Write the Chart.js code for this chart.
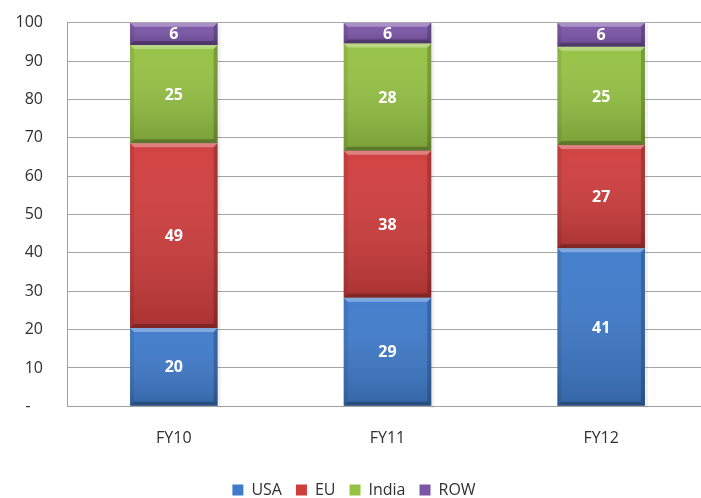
<!DOCTYPE html>
<html>
<head>
<meta charset="utf-8">
<title>Revenue share by region</title>
<script src="https://cdn.jsdelivr.net/npm/chart.js@4"></script>
<style>
  html, body { margin: 0; padding: 0; background: #fff; overflow: hidden; }
  #wrap { width: 712px; height: 508px; }
</style>
</head>
<body>
<div id="wrap"><canvas id="shareChart" width="712" height="508"></canvas></div>
<script>
// ─── Data (segment heights, labels as printed) ──────────────────────────────
const categories = ['FY10', 'FY11', 'FY12'];
const usa   = [20.4, 28.3, 41.2];
const eu    = [48.2, 38.3, 26.9];
const india = [25.6, 28.0, 25.6];
const row   = [5.8, 5.4, 6.3];

const usaLabels   = [20, 29, 41];
const euLabels    = [49, 38, 27];
const indiaLabels = [25, 28, 25];
const rowLabels   = [6, 6, 6];

const yTicks = [0, 10, 20, 30, 40, 50, 60, 70, 80, 90, 100];

const FONT = "'Open Sans', 'Liberation Sans', sans-serif";

// ─── Excel-ish bevel + value labels drawn on top of every bar ───────────────
const bevelPlugin = {
    id: 'bevel',
    afterDatasetsDraw(chart) {
        const ctx = chart.ctx;
        const metas = chart.data.datasets.map((ds, i) => chart.getDatasetMeta(i));
        ctx.save();
        metas.forEach(meta => {
            meta.data.forEach(bar => {
                const p = bar.getProps(['x', 'y', 'base', 'width'], true);
                const l = p.x - p.width / 2, r = p.x + p.width / 2;
                const t = Math.min(p.y, p.base), b = Math.max(p.y, p.base);
                const h = b - t, e = 4;

                const g = ctx.createLinearGradient(0, t, 0, b);
                g.addColorStop(0, 'rgba(255,255,255,0.03)');
                g.addColorStop(1, 'rgba(0,0,0,0.18)');
                ctx.fillStyle = g;
                ctx.fillRect(l, t, p.width, h);

                const poly = (pts, fill) => {
                    ctx.fillStyle = fill;
                    ctx.beginPath();
                    ctx.moveTo(pts[0][0], pts[0][1]);
                    pts.slice(1).forEach(pt => ctx.lineTo(pt[0], pt[1]));
                    ctx.closePath();
                    ctx.fill();
                };
                poly([[l, t], [r, t], [r - e, t + e], [l + e, t + e]], 'rgba(255,255,255,0.32)');
                poly([[l, t], [l + e, t + e], [l + e, b - e], [l, b]], 'rgba(0,0,0,0.08)');
                poly([[r, t], [r, b], [r - e, b - e], [r - e, t + e]], 'rgba(0,0,0,0.20)');
                poly([[l, b], [l + e, b - e], [r - e, b - e], [r, b]], 'rgba(0,0,0,0.25)');

                ctx.fillStyle = 'rgba(0,0,0,0.06)';
                ctx.fillRect(r, t + 2, 3, h);
            });
        });

        ctx.fillStyle = '#ffffff';
        ctx.font = 'bold 16px ' + FONT;
        ctx.textAlign = 'center';
        ctx.textBaseline = 'middle';
        metas.forEach((meta, di) => {
            const labels = chart.data.datasets[di].valueLabels;
            meta.data.forEach((bar, i) => {
                const p = bar.getProps(['x', 'y', 'base'], true);
                ctx.fillText(String(labels[i]), p.x, (p.y + p.base) / 2 + 1);
            });
        });
        ctx.restore();
    }
};

const seg = (label, data, valueLabels, color) => ({
    label: label,
    data: data,
    valueLabels: valueLabels,
    backgroundColor: color,
    borderWidth: 0,
    barPercentage: 0.41,
    categoryPercentage: 1
});

new Chart(document.getElementById('shareChart'), {
    type: 'bar',
    data: {
        labels: categories,
        datasets: [
            seg('USA', usa, usaLabels, '#3f7bcb'),
            seg('EU', eu, euLabels, '#d03d3d'),
            seg('India', india, indiaLabels, '#95c243'),
            seg('ROW', row, rowLabels, '#7b55a8')
        ]
    },
    options: {
        responsive: false,
        animation: false,
        layout: { padding: { top: 22.7, right: 4, left: 0, bottom: 0 } },
        plugins: {
            legend: {
                position: 'bottom',
                labels: {
                    boxWidth: 11,
                    boxHeight: 11,
                    padding: 14,
                    color: '#303030',
                    font: { family: FONT, size: 16 }
                }
            },
            tooltip: { enabled: false }
        },
        scales: {
            x: {
                stacked: true,
                grid: { display: false, drawTicks: false },
                border: { color: '#a0a0a0', width: 1 },
                ticks: { color: '#303030', padding: 23, font: { family: FONT, size: 16 } },
                afterFit: scale => { scale.height = 61.7; }
            },
            y: {
                stacked: true,
                min: 0,
                max: 100,
                afterBuildTicks: scale => { scale.ticks = yTicks.map(v => ({ value: v })); },
                grid: { color: '#a6a6a6', lineWidth: 1, drawTicks: false },
                border: { color: '#a0a0a0', width: 1 },
                ticks: {
                    color: '#303030',
                    padding: 24,
                    font: { family: FONT, size: 16 },
                    callback: v => (v === 0 ? '-   ' : v)
                },
                // fixed axis width; drop the half-label padding so the plot top sits at 100
                afterFit: scale => {
                    scale.width = 67;
                    scale.paddingTop = 0;
                    scale.paddingBottom = 0;
                }
            }
        }
    },
    plugins: [bevelPlugin]
});
</script>
</body>
</html>
